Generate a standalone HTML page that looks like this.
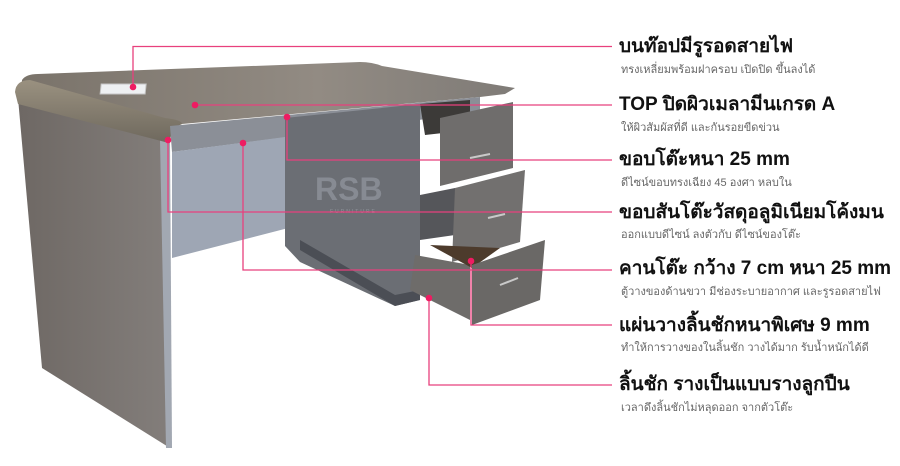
<!DOCTYPE html>
<html><head><meta charset="utf-8"><style>
html,body{margin:0;padding:0;background:#fff;width:900px;height:466px;overflow:hidden;position:relative;font-family:"Liberation Sans","DejaVu Sans",sans-serif}
svg{position:absolute;left:0;top:0}
.t{position:absolute;left:619px;font-weight:bold;font-size:19px;color:#111;white-space:nowrap;line-height:22px}
.s{position:absolute;left:621px;font-size:11px;color:#666;white-space:nowrap;line-height:13px}
</style></head><body>
<svg width="900" height="466" viewBox="0 0 900 466">
<defs>
<linearGradient id="top" x1="0" y1="0" x2="1" y2="0"><stop offset="0" stop-color="#7a736a"/><stop offset="0.6" stop-color="#928b83"/><stop offset="1" stop-color="#7f7b77"/></linearGradient>
<linearGradient id="leg" x1="0" y1="0" x2="1" y2="0"><stop offset="0" stop-color="#6e6864"/><stop offset="1" stop-color="#837e7b"/></linearGradient>
<linearGradient id="band" x1="0" y1="0" x2="0" y2="1"><stop offset="0" stop-color="#9a9180"/><stop offset="1" stop-color="#6f695e"/></linearGradient>
</defs>
<!-- left leg -->
<path d="M18 98 L165 140 L170 448 L42 368 Z" fill="url(#leg)"/>
<path d="M160 140 L170 138 L172 448 L166 448 Z" fill="#a2a8b2"/>
<!-- tabletop -->
<path d="M22 80 Q26 74 38 74 L360 62 Q372 62 382 66 L515 88 L505 94 L480 97 L182 124 Q172 126 165 122 L22 88 Z" fill="url(#top)"/>
<!-- rounded edge band -->
<path d="M15 92 Q16 80 30 80 L165 118 Q182 120 182 124 Q172 128 170 140 L165 142 L18 104 Z" fill="url(#band)"/>
<!-- front apron -->
<path d="M170 126 L480 97 L480 112 L172 152 Z" fill="#8b8f97"/>
<!-- modesty panel -->
<path d="M172 152 L300 135 L300 225 L172 258 Z" fill="#9ea6b4"/>
<!-- pedestal -->
<path d="M285 118 L420 104 L420 300 L395 306 L300 262 L285 246 Z" fill="#6b6e74"/>
<path d="M300 250 L395 306 L420 300 L420 290 L395 295 L300 240 Z" fill="#4b4e55"/>
<!-- drawers -->
<path d="M420 104 L470 100 L470 130 L425 135 Z" fill="#3c3a38"/>
<path d="M440 118 L513 102 L513 168 L440 186 Z" fill="#6f6d6c"/>
<path d="M420 195 L455 188 L455 235 L420 240 Z" fill="#55565a"/>
<path d="M455 188 L525 170 L520 242 L452 262 Z" fill="#72706f"/>
<path d="M415 255 L470 265 L470 320 L410 290 Z" fill="#6e6c6a"/>
<path d="M430 245 L500 248 L472 268 Z" fill="#4d3b2c"/>
<path d="M472 265 L545 240 L540 300 L472 325 Z" fill="#6a6866"/>
<g stroke="#c9c9c9" stroke-width="2" fill="none"><path d="M470 158 L490 154"/><path d="M488 218 L505 214"/><path d="M500 285 L518 278"/></g>
<!-- cable hole -->
<rect x="110" y="84" width="45" height="10" fill="#eef0f2" stroke="#c5c5c5" transform="skewX(-6)"/>
<!-- watermark -->
<text x="315" y="200" font-family="Liberation Sans" font-weight="bold" font-size="32" fill="#8f939b" opacity="0.8">RSB</text>
<text x="330" y="213" font-family="Liberation Sans" font-size="5" letter-spacing="2" fill="#8f939b">FURNITURE</text>
<!-- connectors -->
<g stroke="#e8407d" stroke-width="1.3" fill="none">
<path d="M133 87 V46.5 H612"/>
<path d="M195 105 H612"/>
<path d="M287 117 V160 H612"/>
<path d="M168 140 V212 H612"/>
<path d="M243 143 V270 H612"/>
<path d="M471 261 V325 H612"/>
<path d="M429 298 V385 H612"/>
</g>
<g fill="#ee1c62">
<circle cx="133" cy="87" r="3.3"/><circle cx="195" cy="105" r="3.3"/><circle cx="287" cy="117" r="3.3"/><circle cx="168" cy="140" r="3.3"/><circle cx="243" cy="143" r="3.3"/><circle cx="471" cy="261" r="3.3"/><circle cx="429" cy="298" r="3.3"/>
</g>
</svg>
<div class="t" style="top:36px">บนท๊อปมีรูรอดสายไฟ</div>
<div class="s" style="top:64px">ทรงเหลี่ยมพร้อมฝาครอบ เปิดปิด ขึ้นลงได้</div>
<div class="t" style="top:94px">TOP ปิดผิวเมลามีนเกรด A</div>
<div class="s" style="top:122px">ให้ผิวสัมผัสที่ดี และกันรอยขีดข่วน</div>
<div class="t" style="top:149px">ขอบโต๊ะหนา 25 mm</div>
<div class="s" style="top:177px">ดีไซน์ขอบทรงเฉียง 45 องศา หลบใน</div>
<div class="t" style="top:202px">ขอบสันโต๊ะวัสดุอลูมิเนียมโค้งมน</div>
<div class="s" style="top:229px">ออกแบบดีไซน์ ลงตัวกับ ดีไซน์ของโต๊ะ</div>
<div class="t" style="top:258px">คานโต๊ะ กว้าง 7 cm หนา 25 mm</div>
<div class="s" style="top:286px">ตู้วางของด้านขวา มีช่องระบายอากาศ และรูรอดสายไฟ</div>
<div class="t" style="top:315px">แผ่นวางลิ้นชักหนาพิเศษ 9 mm</div>
<div class="s" style="top:342px">ทำให้การวางของในลิ้นชัก วางได้มาก รับน้ำหนักได้ดี</div>
<div class="t" style="top:374px">ลิ้นชัก รางเป็นแบบรางลูกปืน</div>
<div class="s" style="top:402px">เวลาดึงลิ้นชักไม่หลุดออก จากตัวโต๊ะ</div>
</body></html>
